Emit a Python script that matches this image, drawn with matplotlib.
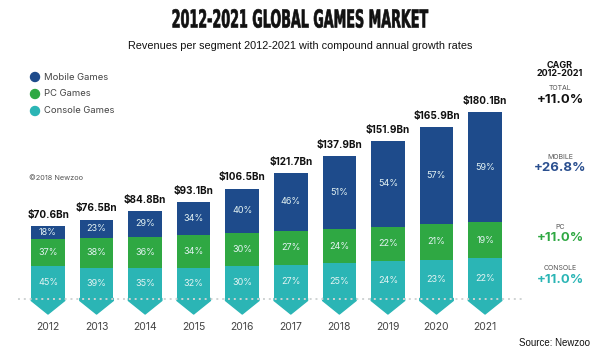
import matplotlib.pyplot as plt
import numpy as np
from matplotlib.patches import Ellipse
from matplotlib.patheffects import AbstractPathEffect
from matplotlib.transforms import Affine2D

# data
years = ['2012', '2013', '2014', '2015', '2016', '2017', '2018', '2019', '2020', '2021']
totals = [70.6, 76.5, 84.8, 93.1, 106.5, 121.7, 137.9, 151.9, 165.9, 180.1]
mobile_pct = [18, 23, 29, 34, 40, 46, 51, 54, 57, 59]
pc_pct = [37, 38, 36, 34, 30, 27, 24, 22, 21, 19]
console_pct = [45, 39, 35, 32, 30, 27, 25, 24, 23, 22]

segments = ['Mobile Games', 'PC Games', 'Console Games']
cagr_labels = ['TOTAL', 'MOBILE', 'PC', 'CONSOLE']
cagr_values = ['+11.0%', '+26.8%', '+11.0%', '+11.0%']

c_mobile = '#1e4b8b'
c_pc = '#2fa843'
c_console = '#2bb5b5'
font = ['Inter', 'DejaVu Sans']


class Squeeze(AbstractPathEffect):
    """squash glyphs horizontally around cx (pixels) to fake a condensed face"""
    def __init__(self, sx, cx, lw, color):
        super().__init__()
        self.sx, self.cx, self.lw, self.color = sx, cx, lw, color

    def draw_path(self, renderer, gc, tpath, affine, rgbFace):
        gc0 = renderer.new_gc()
        gc0.copy_properties(gc)
        gc0.set_linewidth(self.lw)
        gc0.set_foreground(self.color)
        t = affine + Affine2D().translate(-self.cx, 0).scale(self.sx, 1).translate(self.cx, 0)
        renderer.draw_path(gc0, tpath, t, rgbFace)
        gc0.restore()


fig = plt.figure(figsize=(6, 3.61), dpi=100)
ax = fig.add_axes([0, 0.1, 1, 0.6463])
ax.set_xlim(-0.9885, 11.367)
ax.set_ylim(-25, 200)
ax.axis('off')

x = np.arange(len(years))
tot = np.array(totals)
shares = [np.array(console_pct), np.array(pc_pct), np.array(mobile_pct)]
norm = shares[0] + shares[1] + shares[2]
vals = [tot * s / norm for s in shares]
colors = [c_console, c_pc, c_mobile]
w = 0.69

bottom = np.zeros(len(x))
for v, s, c in zip(vals, shares, colors):
    ax.bar(x, v, w, bottom=bottom, color=c, zorder=2)
    for xi, b, vi, si in zip(x, bottom, v, s):
        ax.text(xi, b + vi / 2, f'{si}%', ha='center', va='center',
                color='#e4f3f3', fontsize=6.5, family=font, zorder=4)
    bottom = bottom + v

# arrow-shaped bottoms of the bars
for xi in x:
    ax.fill([xi - w / 2, xi + w / 2, xi + w / 2, xi, xi - w / 2],
            [0.5, 0.5, -1.5, -14.5, -1.5], color=c_console, zorder=2,
            joinstyle='round', linewidth=1)

# totals above bars
for xi, t in zip(x, totals):
    ax.text(xi, t + 6, f'${t}Bn', ha='center', va='bottom', fontsize=7.2,
            fontweight='bold', color='#111111', family=font)

# year labels
for xi, yr in zip(x, years):
    ax.text(xi, -27, yr, ha='center', va='center', fontsize=7.5,
            color='#444444', family=font, clip_on=False)

# dotted baseline
ax.plot([-0.62, 9.76], [0, 0], color='#cfd3d3', linestyle=(0, (1, 2)),
        linewidth=1.4, zorder=3)

# title and subtitle
fig.text(0.5, 1 - 27.5 / 361, '2012-2021 GLOBAL GAMES MARKET', ha='center',
         va='baseline', fontsize=17.8, fontweight='bold', family='DejaVu Sans',
         color='#111111',
         path_effects=[Squeeze(0.515, 300, 0.45, '#111111')])
fig.text(0.5, 1 - 49 / 361, 'Revenues per segment 2012-2021 with compound annual growth rates',
         ha='center', va='baseline', fontsize=7.8, family=['Liberation Sans', 'DejaVu Sans'],
         color='#111111')

# legend
for i, (name, c) in enumerate(zip(segments, [c_mobile, c_pc, c_console])):
    yy = 1 - (77 + 17 * i) / 361
    fig.patches.append(Ellipse((35 / 600, yy), 9 / 600, 9 / 361,
                               transform=fig.transFigure, color=c))
    fig.text(44 / 600, yy, name, ha='left', va='center', fontsize=6.8,
             color='#444444', family=font)

fig.text(29 / 600, 1 - 178 / 361, '\u00a92018 Newzoo', ha='left', va='center',
         fontsize=5.3, color='#555555', family=font)

# CAGR column
cx = 560 / 600
fig.text(cx, 1 - 65 / 361, 'CAGR', ha='center', va='center', fontsize=6.5,
         fontweight='bold', color='#111111', family=font)
fig.text(cx, 1 - 74 / 361, '2012-2021', ha='center', va='center', fontsize=6.5,
         fontweight='bold', color='#111111', family=font)
lab_y = [88, 157, 227, 268]
val_y = [100, 168, 238, 280]
val_c = ['#111111', '#2a4f8f', c_pc, c_console]
for lab, val, ly, vy, vc in zip(cagr_labels, cagr_values, lab_y, val_y, val_c):
    fig.text(cx, 1 - ly / 361, lab, ha='center', va='center', fontsize=5,
             color='#555555', family=font)
    fig.text(cx, 1 - vy / 361, val, ha='center', va='center', fontsize=9.5,
             fontweight='bold', color=vc, family=font)

fig.text(590 / 600, 1 - 343 / 361, 'Source: Newzoo', ha='right', va='center',
         fontsize=7, color='#111111', family=['Liberation Sans', 'DejaVu Sans'])

fig.savefig('out.png', dpi=100)
